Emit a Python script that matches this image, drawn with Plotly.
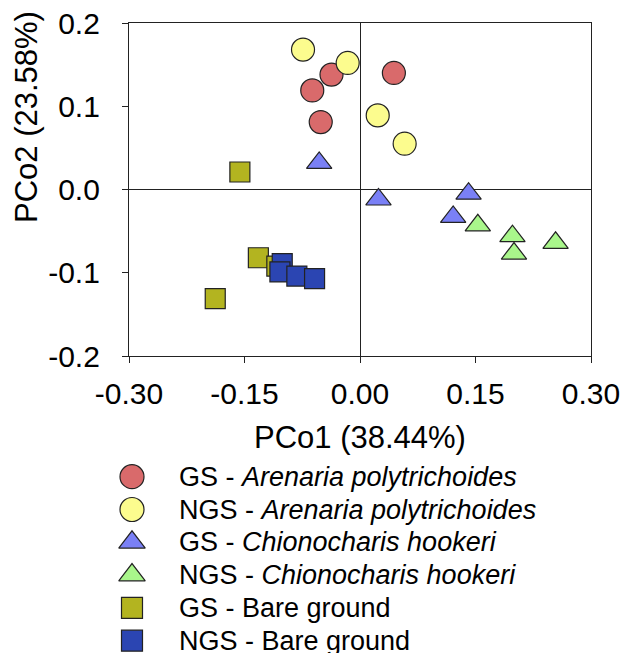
import plotly.graph_objects as go

# ---- Data ----
gs_aren_x = [-0.037, -0.062, -0.051, 0.044]
gs_aren_y = [0.138, 0.119, 0.081, 0.140]
ngs_aren_x = [-0.074, -0.016, 0.023, 0.058]
ngs_aren_y = [0.168, 0.152, 0.089, 0.055]
gs_chio_x = [-0.053, 0.024, 0.141, 0.121]
gs_chio_y = [0.032, -0.012, -0.005, -0.033]
ngs_chio_x = [0.153, 0.198, 0.200, 0.254]
ngs_chio_y = [-0.043, -0.056, -0.077, -0.064]
gs_bare_x = [-0.156, -0.132, -0.188, -0.108]
gs_bare_y = [0.021, -0.082, -0.131, -0.092]
ngs_bare_x = [-0.101, -0.104, -0.082, -0.059]
ngs_bare_y = [-0.089, -0.099, -0.104, -0.107]

legend_labels = [
    "GS - <i>Arenaria polytrichoides</i>",
    "NGS - <i>Arenaria polytrichoides</i>",
    "GS - <i>Chionocharis hookeri</i>",
    "NGS - <i>Chionocharis hookeri</i>",
    "GS - Bare ground",
    "NGS - Bare ground",
]
x_ticks = [-0.30, -0.15, 0.0, 0.15, 0.30]
x_ticktext = ["-0.30", "-0.15", "0.00", "0.15", "0.30"]
y_ticks = [-0.2, -0.1, 0.0, 0.1, 0.2]
y_ticktext = ["-0.2", "-0.1", "0.0", "0.1", "0.2"]

styles = [
    ("circle", "#d96a6b", 23),
    ("circle", "#fcfc8e", 23),
    ("triangle-up", "#7a80f6", 22),
    ("triangle-up", "#a9f68b", 22),
    ("square", "#b3b420", 20),
    ("square", "#2b45b2", 20),
]
data = [
    (gs_aren_x, gs_aren_y), (ngs_aren_x, ngs_aren_y),
    (gs_chio_x, gs_chio_y), (ngs_chio_x, ngs_chio_y),
    (gs_bare_x, gs_bare_y), (ngs_bare_x, ngs_bare_y),
]

# page body has an 8px margin: draw the figure 8px smaller and shift coords
OFF = 8
W, H = 635 - OFF, 653 - OFF
font = "Liberation Sans, Arial, sans-serif"
line_col = "#222222"


def px(v):
    return (v - OFF) / W


def py(v):
    return 1 - (v - OFF) / H


fig = go.Figure()
for (xs, ys), (sym, col, sz), name in zip(data, styles, legend_labels):
    fig.add_trace(go.Scatter(
        x=xs, y=ys, mode="markers", name=name, showlegend=False,
        marker=dict(symbol=sym, color=col, size=sz,
                    line=dict(color=line_col, width=1.2)),
        xaxis="x", yaxis="y",
    ))

# ---- manual legend on a hidden helper axis ----
rows = list(range(len(legend_labels)))
leg_marker_x = 132 - OFF
leg_text_x = 177 - OFF
row0, row_step = 476.7, 32.8
for i, ((sym, col, sz), name) in enumerate(zip(styles, legend_labels)):
    fig.add_trace(go.Scatter(
        x=[leg_marker_x], y=[rows[i]], mode="markers", showlegend=False,
        marker=dict(symbol=sym, color=col, size=sz + 1,
                    line=dict(color=line_col, width=1.2)),
        xaxis="x2", yaxis="y2", hoverinfo="skip",
    ))
    fig.add_annotation(
        x=leg_text_x, y=rows[i], xref="x2", yref="y2", text=name,
        showarrow=False, xanchor="left", yanchor="middle",
        font=dict(size=27, family=font, color="black"),
    )

# Axis titles
fig.add_annotation(
    x=px(360), y=py(437), xref="paper", yref="paper",
    text="PCo1 (38.44%)", showarrow=False, xanchor="center", yanchor="middle",
    font=dict(size=31, family=font, color="black"),
)
fig.add_annotation(
    x=px(26), y=py(117), xref="paper", yref="paper",
    text="PCo2 (23.58%)", showarrow=False, xanchor="center", yanchor="middle",
    textangle=-90, font=dict(size=31, family=font, color="black"),
)

fig.update_layout(
    width=W, height=H,
    margin=dict(l=0, r=0, t=0, b=0),
    paper_bgcolor="white", plot_bgcolor="white",
    font=dict(family=font, color="black", size=30),
    showlegend=False,
    xaxis=dict(
        domain=[px(129), px(591)], range=[-0.30, 0.30],
        tickvals=x_ticks, ticktext=x_ticktext, automargin=False,
        showgrid=False, zeroline=True, zerolinecolor=line_col, zerolinewidth=1.2,
        showline=True, linecolor=line_col, linewidth=1.2, mirror=True,
        ticks="outside", ticklen=6, tickcolor=line_col, tickwidth=1.2,
        tickfont=dict(size=30), ticklabelstandoff=5, ticklabeloverflow="allow",
    ),
    yaxis=dict(
        domain=[py(356), py(23)], range=[-0.20, 0.20],
        tickvals=y_ticks, ticktext=y_ticktext, automargin=False,
        showgrid=False, zeroline=True, zerolinecolor=line_col, zerolinewidth=1.2,
        showline=True, linecolor=line_col, linewidth=1.2, mirror=True,
        ticks="outside", ticklen=6, tickcolor=line_col, tickwidth=1.2,
        tickfont=dict(size=30), ticklabelstandoff=16, ticklabeloverflow="allow",
    ),
    xaxis2=dict(domain=[0, 1], range=[0, W], visible=False, anchor="y2"),
    yaxis2=dict(domain=[0, py(440)],
                range=[(653 - row0) / row_step, (440 - row0) / row_step],
                visible=False, anchor="x2"),
)

fig.write_html("out.html")
